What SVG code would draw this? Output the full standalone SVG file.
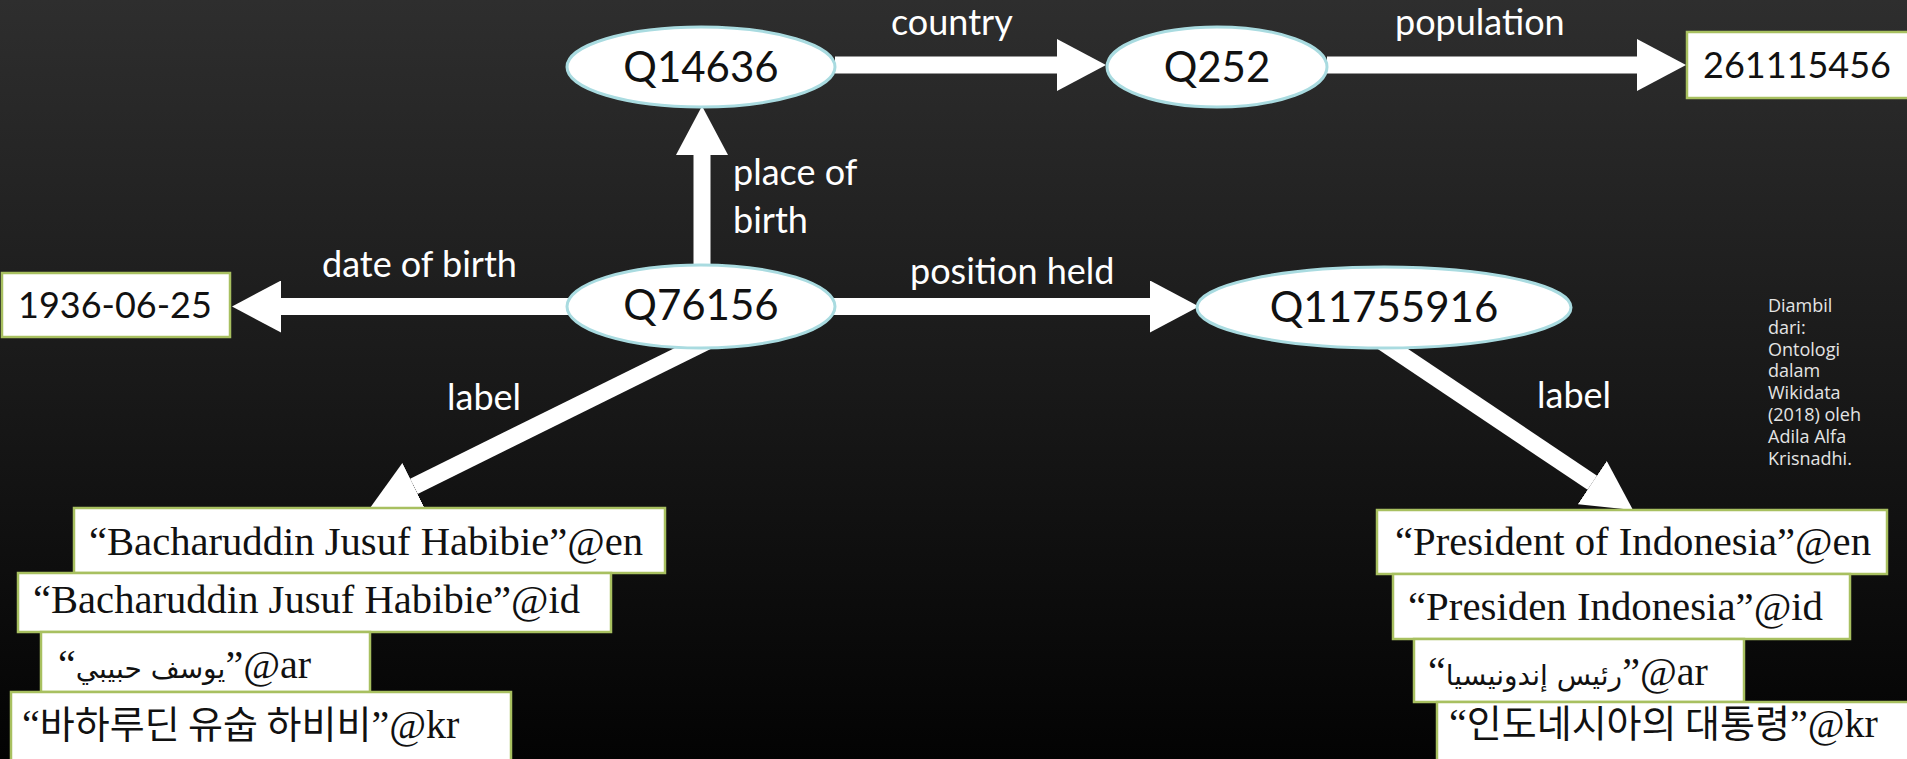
<svg xmlns="http://www.w3.org/2000/svg" width="1907" height="759" viewBox="0 0 1907 759">
<style>
.node ellipse{fill:#ffffff;stroke:#a9dbe0;stroke-width:3}
.box rect{fill:#ffffff;stroke:#a8c060;stroke-width:2.5}
.ntext{font-family:Lato,"Open Sans",sans-serif;font-size:42px;fill:#111;text-anchor:middle}
.btext{font-family:Lato,"Open Sans",sans-serif;font-size:36px;fill:#111}
.lit{font-family:"Liberation Serif","DejaVu Serif","Noto Sans CJK KR",serif;font-size:40px;fill:#111}
.ar{font-family:"DejaVu Sans","Noto Sans",sans-serif;font-size:28px}
.kr{font-family:"Noto Sans CJK KR",sans-serif;font-size:38px}
.elabel{font-family:Lato,"Open Sans",sans-serif;font-size:36px;fill:#ffffff}
.conn{stroke:#ffffff;stroke-width:17;fill:none;marker-end:url(#ah)}
.note{font-family:"Open Sans","Noto Sans",sans-serif;font-size:18px;fill:#e4e4e4}
</style>
<defs>
<linearGradient id="bg" x1="0" y1="0" x2="0" y2="1">
<stop offset="0" stop-color="#2e2e2e"/>
<stop offset="0.5" stop-color="#191919"/>
<stop offset="1" stop-color="#030303"/>
</linearGradient>
<marker id="ah" markerUnits="userSpaceOnUse" markerWidth="50" markerHeight="52" refX="0" refY="26" orient="auto">
<path d="M0,0 L49,26 L0,52 z" fill="#ffffff"/>
</marker>
</defs>
<rect x="0" y="0" width="1907" height="759" fill="url(#bg)"/>

<g id="connectors">
<path class="conn" d="M835,65 H1057"/>
<path class="conn" d="M1327,65 H1637"/>
<path class="conn" d="M702,270 V155"/>
<path class="conn" d="M570,306.5 H281"/>
<path class="conn" d="M832,306.5 H1150"/>
<path class="conn" d="M710,340 L413.9,486.3"/>
<path class="conn" d="M1372,335 L1592.3,482.7"/>
</g>

<g id="edge-labels">
<text class="elabel" x="891" y="35">country</text>
<text class="elabel" x="1395" y="35">population</text>
<text class="elabel" x="733" y="185">place of</text>
<text class="elabel" x="733" y="233">birth</text>
<text class="elabel" x="322" y="277">date of birth</text>
<text class="elabel" x="910" y="284">position held</text>
<text class="elabel" x="447" y="410">label</text>
<text class="elabel" x="1537" y="408">label</text>
</g>

<g id="node-Q14636" class="node">
<ellipse cx="701" cy="67" rx="134" ry="40"/>
<text class="ntext" x="701" y="82">Q14636</text>
</g>
<g id="node-Q252" class="node">
<ellipse cx="1217" cy="67" rx="110" ry="40"/>
<text class="ntext" x="1217" y="82">Q252</text>
</g>
<g id="node-261115456" class="box">
<rect x="1687" y="32" width="222" height="66"/>
<text class="btext" x="1703" y="78">261115456</text>
</g>
<g id="node-Q76156" class="node">
<ellipse cx="701" cy="306.5" rx="134" ry="41.5"/>
<text class="ntext" x="701" y="320">Q76156</text>
</g>
<g id="node-1936-06-25" class="box">
<rect x="2" y="273" width="228" height="64"/>
<text class="btext" x="18" y="318">1936-06-25</text>
</g>
<g id="node-Q11755916" class="node">
<ellipse cx="1384" cy="307.5" rx="187" ry="40.5"/>
<text class="ntext" x="1384" y="322">Q11755916</text>
</g>

<g id="node-habibie-labels" class="box">
<rect x="74" y="508" width="591" height="65"/>
<text class="lit" x="89" y="555" textLength="554" lengthAdjust="spacingAndGlyphs">“Bacharuddin Jusuf Habibie”@en</text>
<rect x="18" y="573" width="593" height="59"/>
<text class="lit" x="33" y="613" textLength="547" lengthAdjust="spacingAndGlyphs">“Bacharuddin Jusuf Habibie”@id</text>
<rect x="41" y="632" width="329" height="60"/>
<text class="lit" x="58" y="678">“<tspan class="ar">يوسف حبيبي</tspan>”@ar</text>
<rect x="11" y="692" width="500" height="70"/>
<text class="lit" x="22" y="738">“<tspan class="kr">바하루딘 유숩 하비비</tspan>”@kr</text>
</g>

<g id="node-president-labels" class="box">
<rect x="1377" y="510" width="510" height="64"/>
<text class="lit" x="1395" y="555" textLength="476" lengthAdjust="spacingAndGlyphs">“President of Indonesia”@en</text>
<rect x="1393" y="574" width="457" height="65"/>
<text class="lit" x="1408" y="620" textLength="415" lengthAdjust="spacingAndGlyphs">“Presiden Indonesia”@id</text>
<rect x="1414" y="639" width="330" height="63"/>
<text class="lit" x="1428" y="685">“<tspan class="ar">رئيس إندونيسيا</tspan>”@ar</text>
<rect x="1437" y="702" width="472" height="60"/>
<text class="lit" x="1449" y="737">“<tspan class="kr">인도네시아의 대통령</tspan>”@kr</text>
</g>

<g id="source-note">
<text class="note" x="1768" y="312">Diambil</text>
<text class="note" x="1768" y="334">dari:</text>
<text class="note" x="1768" y="356">Ontologi</text>
<text class="note" x="1768" y="377">dalam</text>
<text class="note" x="1768" y="399">Wikidata</text>
<text class="note" x="1768" y="421">(2018) oleh</text>
<text class="note" x="1768" y="443">Adila Alfa</text>
<text class="note" x="1768" y="465">Krisnadhi.</text>
</g>
</svg>
